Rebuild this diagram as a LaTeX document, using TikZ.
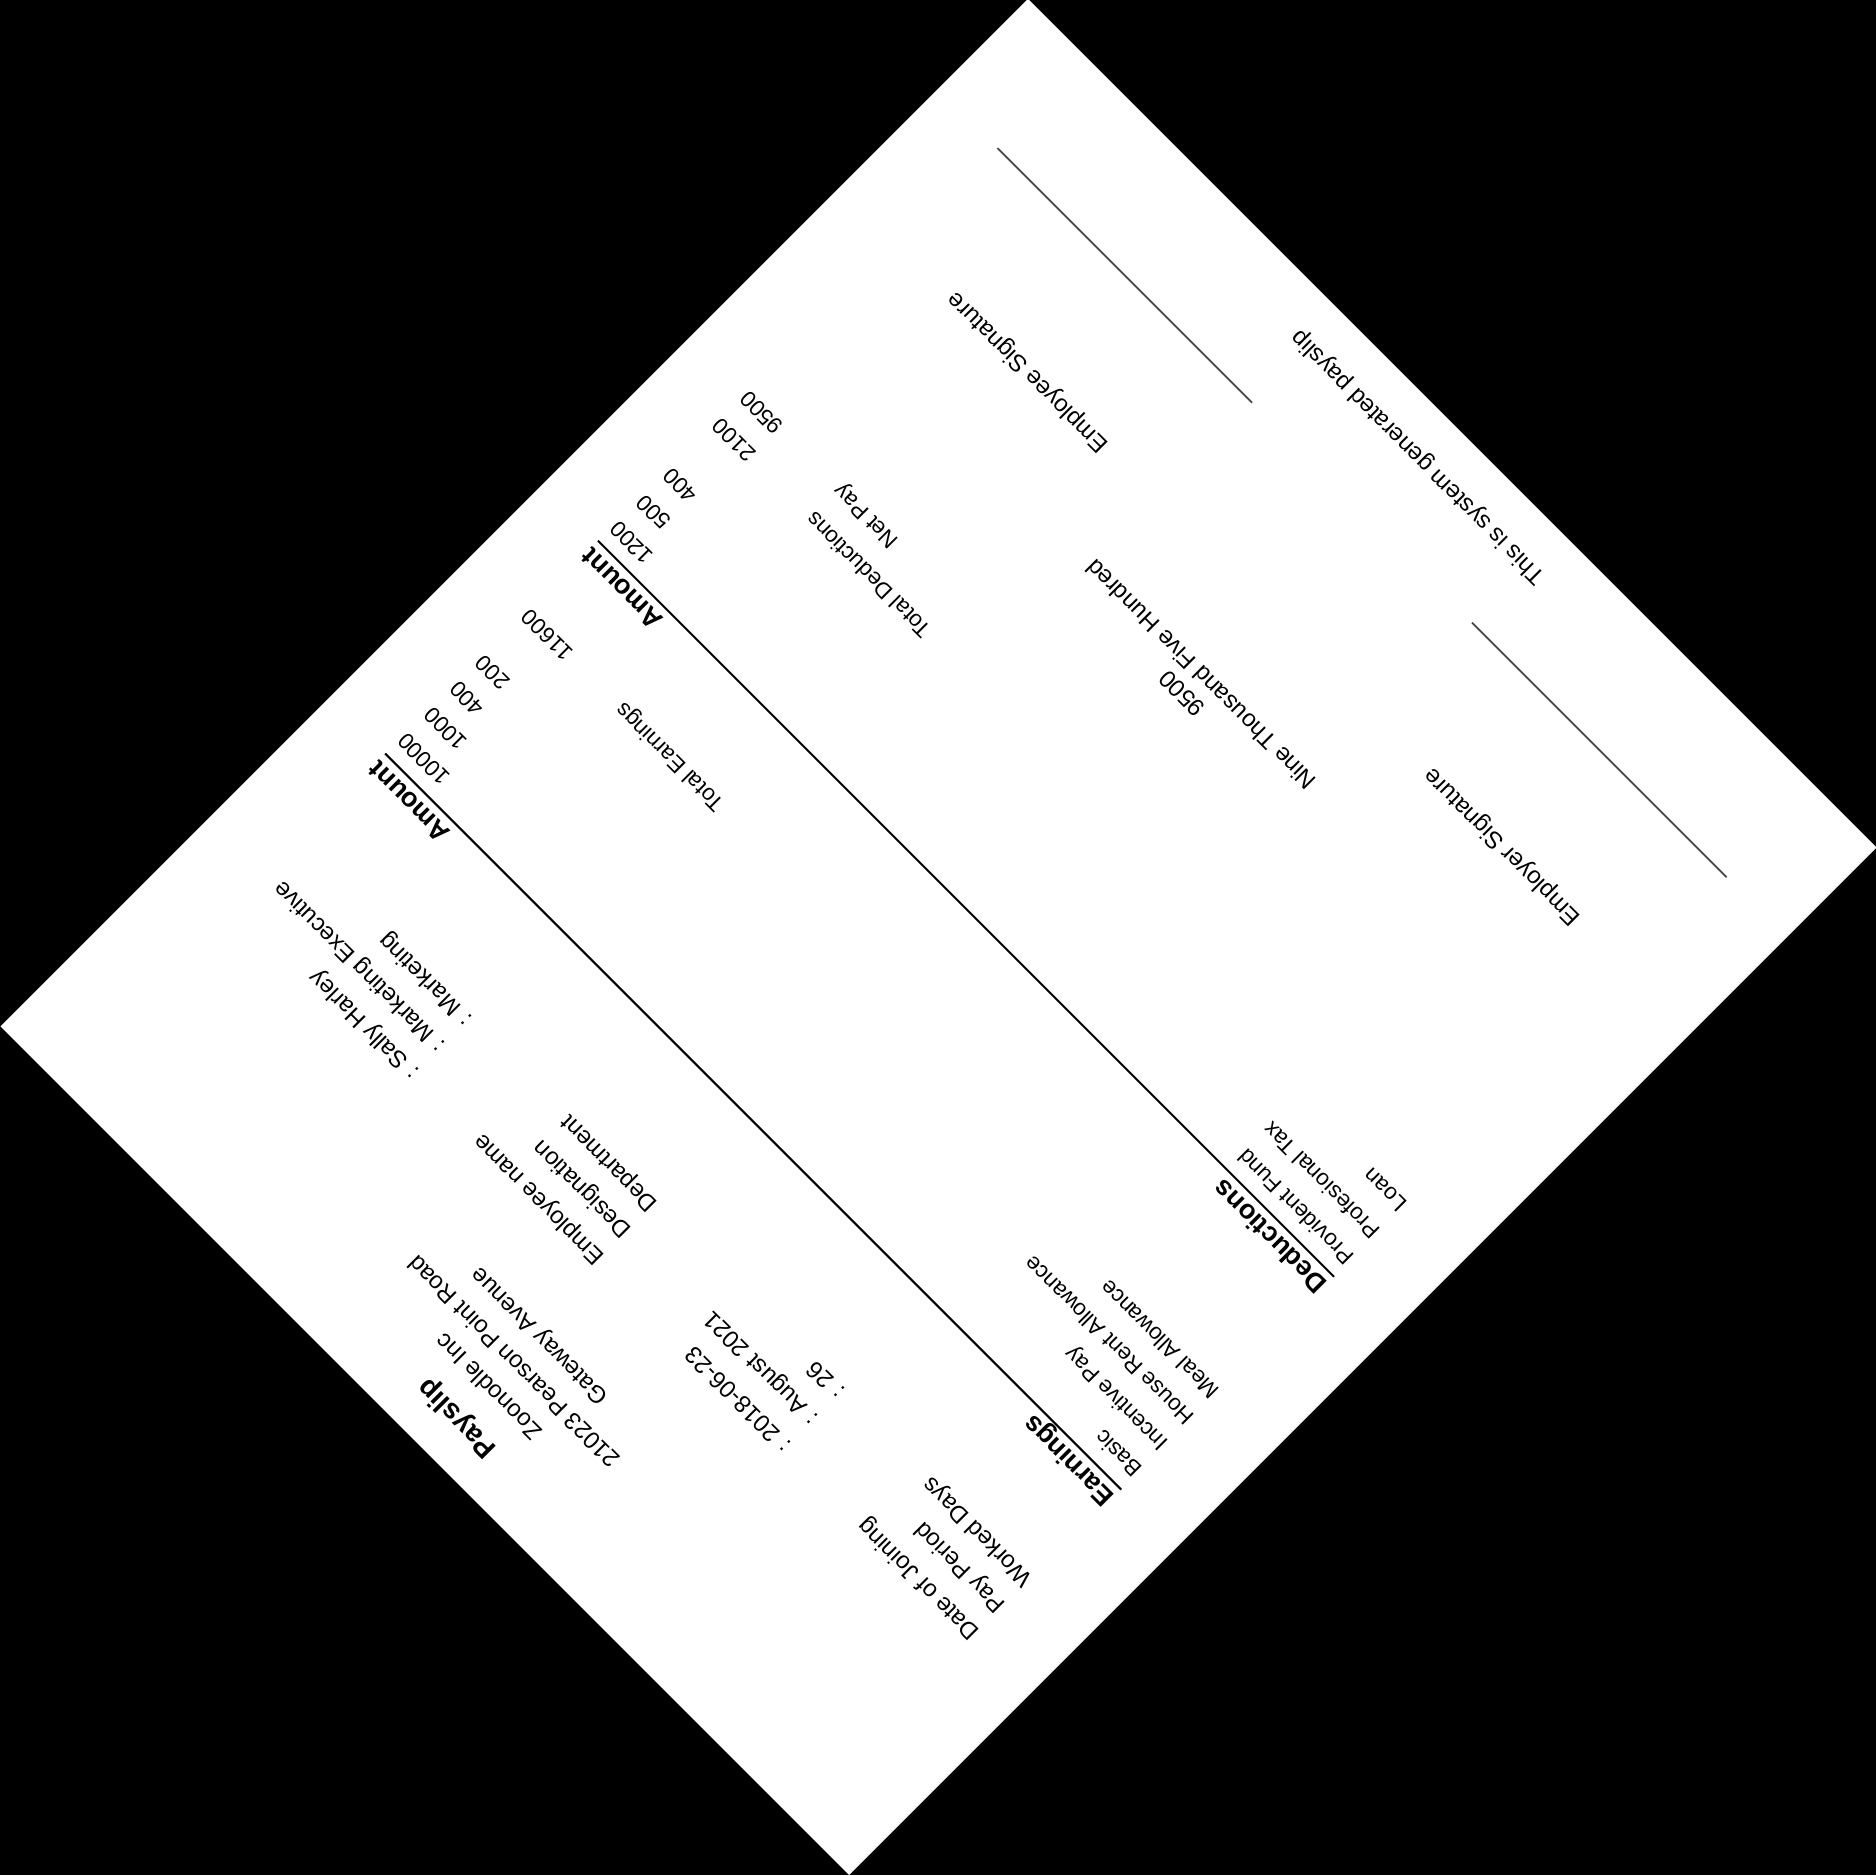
\documentclass[tikz,border=0pt]{standalone}
\usepackage{fontspec}
\setmainfont{Liberation Sans}
\begin{document}
\begin{tikzpicture}[x=1pt,y=1pt,
  body/.style={font=\fontsize{24}{28}\selectfont, inner sep=0pt},
  tab/.style={font=\fontsize{22.5}{26}\selectfont, inner sep=0pt},
  th/.style={font=\bfseries\fontsize{27}{31}\selectfont, inner sep=0pt},
  ttl/.style={font=\bfseries\fontsize{28}{32}\selectfont, inner sep=0pt},
  rule/.style={line width=2pt, black},
  sigrule/.style={line width=1.8pt, black!72}]
\fill[black] (0,0) rectangle (1876,1875);
\useasboundingbox (0,0) rectangle (1876,1875);
\begin{scope}[shift={(849,0)}, rotate=135, every node/.append style={transform shape}]
\fill[white] (0,0) rectangle (1200,-1453.1);
% header
\node[ttl, anchor=base] (title) at (600,-54) {Payslip};
\node[body, anchor=base] (company) at (600,-98.5) {Zoonodle Inc};
\node[body, anchor=base] (addr1) at (600,-134) {21023 Pearson Point Road};
\node[body, anchor=base] (addr2) at (600,-169.5) {Gateway Avenue};
% info left
\node[body, anchor=base west] (doj) at (80,-265.5) {Date of Joining};
\node[body, anchor=base west] (pp) at (80,-303.5) {Pay Period};
\node[body, anchor=base west] (wd) at (80,-341) {Worked Days};
\node[body, anchor=base west] (dojv) at (345,-265.5) {: 2018-06-23};
\node[body, anchor=base west] (ppv) at (345,-303.5) {: August 2021};
\node[body, anchor=base west] (wdv) at (345,-341) {: 26};
% info right
\node[body, anchor=base west] (en) at (610,-265.5) {Employee name};
\node[body, anchor=base west] (des) at (610,-303.5) {Designation};
\node[body, anchor=base west] (dep) at (610,-341) {Department};
\node[body, anchor=base west] (env) at (872,-265.5) {: Sally Harley};
\node[body, anchor=base west] (desv) at (872,-303.5) {: Marketing Executive};
\node[body, anchor=base west] (depv) at (872,-341) {: Marketing};
% earnings table
\node[th, anchor=base west] (earn) at (80,-457) {Earnings};
\node[th, anchor=base east] (eamt) at (1121,-457) {Amount};
\coordinate (eL) at (80,-465);
\coordinate (eR) at (1121,-465);
\draw[rule] (eL) -- (eR);
\node[tab, anchor=base west] (basic) at (80,-496) {Basic};
\node[tab, anchor=base west] (inc) at (80,-533) {Incentive Pay};
\node[tab, anchor=base west] (hra) at (80,-569.5) {House Rent Allowance};
\node[tab, anchor=base west] (meal) at (80,-606) {Meal Allowance};
\node[tab, anchor=base east] (basicv) at (1121,-496) {10000};
\node[tab, anchor=base east] (incv) at (1121,-533) {1000};
\node[tab, anchor=base east] (hrav) at (1121,-569.5) {400};
\node[tab, anchor=base east] (mealv) at (1121,-606) {200};
\node[tab, anchor=base east] (te) at (989,-671) {Total Earnings};
\node[tab, anchor=base east] (tev) at (1121,-671) {11600};
% deductions table
\node[th, anchor=base west] (ded) at (80,-758) {Deductions};
\node[th, anchor=base east] (damt) at (1121,-758) {Amount};
\coordinate (dL) at (80,-766);
\coordinate (dR) at (1121,-766);
\draw[rule] (dL) -- (dR);
\node[tab, anchor=base west] (pf) at (80,-796) {Provident Fund};
\node[tab, anchor=base west] (pt) at (80,-833) {Profesional Tax};
\node[tab, anchor=base west] (loan) at (80,-871) {Loan};
\node[tab, anchor=base east] (pfv) at (1121,-796) {1200};
\node[tab, anchor=base east] (ptv) at (1121,-833) {500};
\node[tab, anchor=base east] (loanv) at (1121,-871) {400};
\node[tab, anchor=base east] (td) at (989,-941) {Total Deductions};
\node[tab, anchor=base east] (tdv) at (1121,-941) {2100};
\node[tab, anchor=base east] (np) at (989,-980) {Net Pay};
\node[tab, anchor=base east] (npv) at (1121,-980) {9500};
% net pay in words
\node[body, anchor=base] (net) at (600,-1079) {9500};
\node[body, anchor=base] (words) at (600,-1106) {Nine Thousand Five Hundred};
% signatures
\node[body, anchor=base] (ersig) at (265,-1196) {Employer Signature};
\node[body, anchor=base] (eesig) at (936,-1196) {Employee Signature};
\coordinate (erL) at (85,-1326);
\coordinate (erR) at (445,-1326);
\coordinate (eeL) at (756,-1326);
\coordinate (eeR) at (1116,-1326);
\draw[sigrule] (erL) -- (erR);
\draw[sigrule] (eeL) -- (eeR);
% footer
\node[body, anchor=base] (foot) at (600,-1412) {This is system generated payslip};
\end{scope}
\end{tikzpicture}
\end{document}
